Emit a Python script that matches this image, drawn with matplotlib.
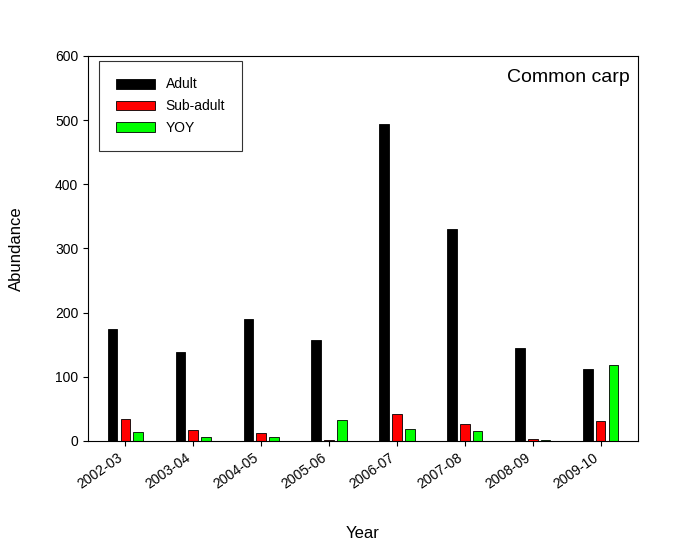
import matplotlib
matplotlib.use("Agg")
import matplotlib.pyplot as plt
import numpy as np

years = ["2002-03","2003-04","2004-05","2005-06","2006-07","2007-08","2008-09","2009-10"]
adult = [175, 139, 190, 157, 494, 331, 145, 112]
subadult = [34, 17, 13, 2, 42, 26, 3, 31]
yoy = [14, 6, 6, 33, 19, 16, 1, 119]

plt.rcParams["font.family"] = "Liberation Sans"
fig = plt.figure(figsize=(6.75, 5.5), dpi=100)
ax = fig.add_axes([88/675, 1-441/550, 550/675, 385/550])
x = np.arange(len(years))
w = 0.14
kw = dict(edgecolor="black", linewidth=0.6)
ax.bar(x - w*1.35, adult, w, color="black", label="Adult", **kw)
ax.bar(x, subadult, w, color="#ff0000", label="Sub-adult", **kw)
ax.bar(x + w*1.35, yoy, w, color="#00ff00", label="YOY", **kw)
ax.set_xlim(-0.55, 7.55)
ax.set_ylim(0, 600)
ax.set_yticks(range(0, 601, 100))
ax.set_xticks(x)
ax.set_xticklabels(years, rotation=35, ha="right", fontsize=10)
ax.tick_params(labelsize=10)
ax.set_xlabel("Year", fontsize=12, labelpad=25)
ax.set_ylabel("Abundance", fontsize=12, labelpad=22)
ax.text(0.985, 0.965, "Common carp", transform=ax.transAxes, ha="right", va="top", fontsize=14)
leg = ax.legend(loc="upper left", bbox_to_anchor=(0.02, 0.988), fancybox=False, edgecolor="black",
                fontsize=10, borderpad=1.2, labelspacing=0.55, handlelength=2.8, handleheight=0.8,
                borderaxespad=0)
leg._legend_box.align = "left"
leg.get_frame().set_linewidth(0.8)
for h in leg.legend_handles:
    h.set_height(7)
fig.canvas.draw()
# widen legend frame to match reference width
leg.get_frame().set_width(151)
leg.get_frame().set_height(101)
leg.get_frame().set_y(leg.get_frame().get_y() + leg.get_frame().get_height() - 101 if False else leg.get_frame().get_y())
fig.savefig("out.png", dpi=100)
